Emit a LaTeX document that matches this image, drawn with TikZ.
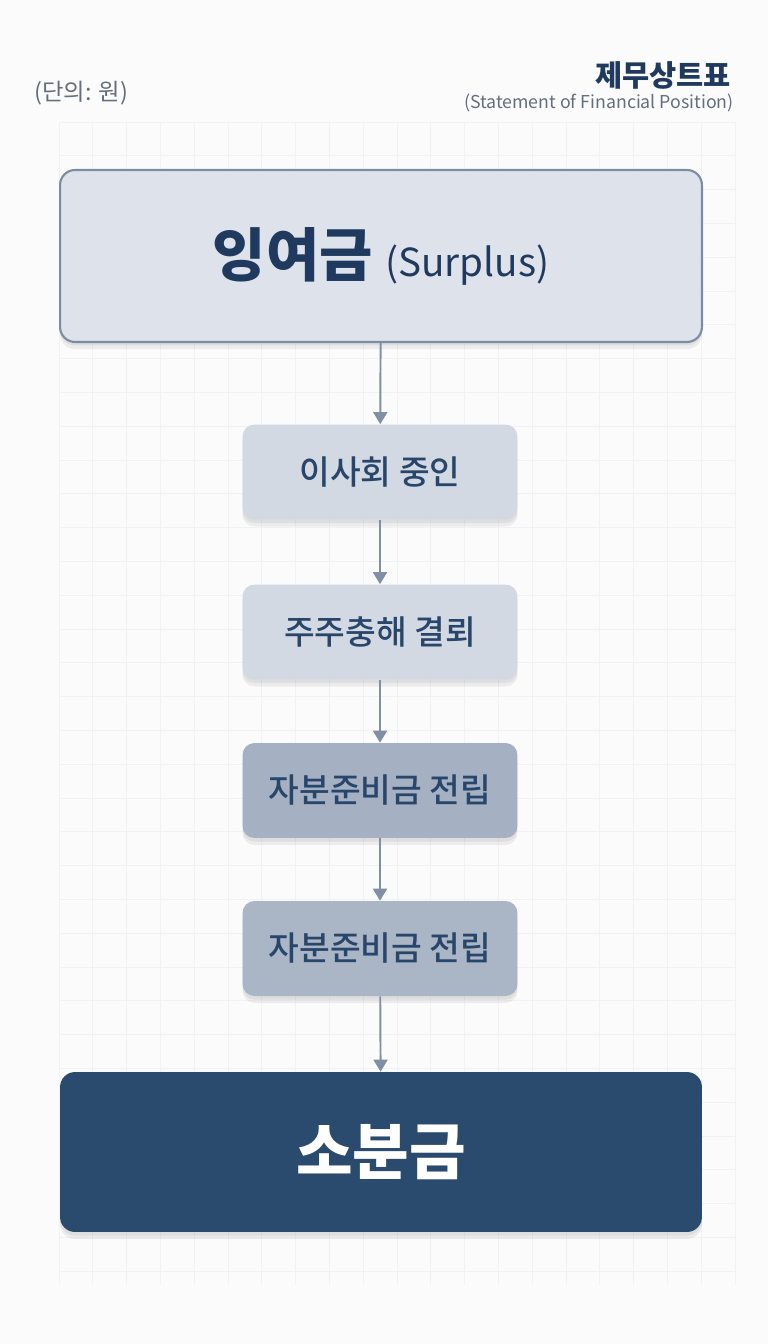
\documentclass[tikz,border=0pt]{standalone}
\usepackage{fontspec}
\setmainfont{Noto Sans CJK KR}
\newfontfamily\medium{Noto Sans CJK KR Medium}
\usetikzlibrary{arrows.meta,shadows}
\definecolor{pagebg}{RGB}{251,251,252}
\definecolor{gridcol}{RGB}{241,242,245}
\definecolor{navy}{RGB}{31,58,94}
\definecolor{boxtext}{RGB}{40,70,106}
\definecolor{note}{RGB}{100,110,124}
\definecolor{edge}{RGB}{128,143,164}
\definecolor{lightfill}{RGB}{222,227,235}
\definecolor{lightborder}{RGB}{125,140,163}
\definecolor{paleblue}{RGB}{211,217,227}
\definecolor{midblue}{RGB}{165,176,194}
\definecolor{deepblue}{RGB}{42,75,110}

\begin{document}
\begin{tikzpicture}[x=0.02cm,y=-0.02cm,
	gridline/.style={gridcol,line width=0.4pt},
	shade/.style={drop shadow={shadow xshift=0pt,shadow yshift=-4pt,opacity=0.06,fill=black},
		drop shadow={shadow xshift=0pt,shadow yshift=-2pt,opacity=0.06,fill=black}},
	bigbox/.style={rounded corners=0.3cm,minimum width=12.84cm,shade},
	stepbox/.style={rounded corners=0.24cm,minimum width=5.5cm,minimum height=1.9cm,text=boxtext,font=\medium\fontsize{19}{22}\selectfont,shade},
	flow/.style={edge,line width=1.1pt,-{Triangle[width=0.28cm,length=0.24cm]}}]
	\fill[pagebg] (0,0) rectangle (768,1344);
	\useasboundingbox (0,0) rectangle (768,1344);

	% faint grid
	\foreach \i in {0,...,20}
		\draw[gridline] ({59+\i*33.8},122) -- ({59+\i*33.8},1285);
	\foreach \j in {0,...,34}
		\draw[gridline] (59,{122+\j*33.8}) -- (735,{122+\j*33.8});

	% header
	\node[anchor=west,text=note,font=\fontsize{13.3}{15}\selectfont] (unit) at (28,93) {(단의: 원)};
	\node[anchor=east,text=navy,font=\bfseries\fontsize{16.8}{19}\selectfont] (title) at (737,75) {제무상트표};
	\node[anchor=east,text=note,font=\fontsize{10.1}{12}\selectfont] (subtitle) at (740,103) {(Statement of Financial Position)};

	% boxes
	\node[bigbox,minimum height=3.44cm,fill=lightfill,draw=lightborder,line width=1.2pt] (surplus) at (381,256)
		{\textcolor{navy}{\bfseries\fontsize{33}{38}\selectfont 잉여금}\hspace{0.25cm}\textcolor{navy}{\fontsize{22}{26}\selectfont (Surplus)}};
	\node[stepbox,fill=paleblue] (board) at (380,472) {이사회 중인};
	\node[stepbox,fill=paleblue] (consent) at (380,632) {주주충해 결뢰};
	\node[stepbox,fill=midblue] (reserve1) at (380,790.5) {자분준비금 전립};
	\node[stepbox,fill=midblue!94!white] (reserve2) at (380,948.5) {자분준비금 전립};
	\node[bigbox,minimum height=3.2cm,fill=deepblue,text=white,font=\bfseries\fontsize{35}{40}\selectfont] (capital) at (381,1152) {소분금};

	\foreach \x/\y in {surplus/board,board/consent,consent/reserve1,reserve1/reserve2,reserve2/capital}
		\draw[flow] (\x) -- (\y);
\end{tikzpicture}
\end{document}
